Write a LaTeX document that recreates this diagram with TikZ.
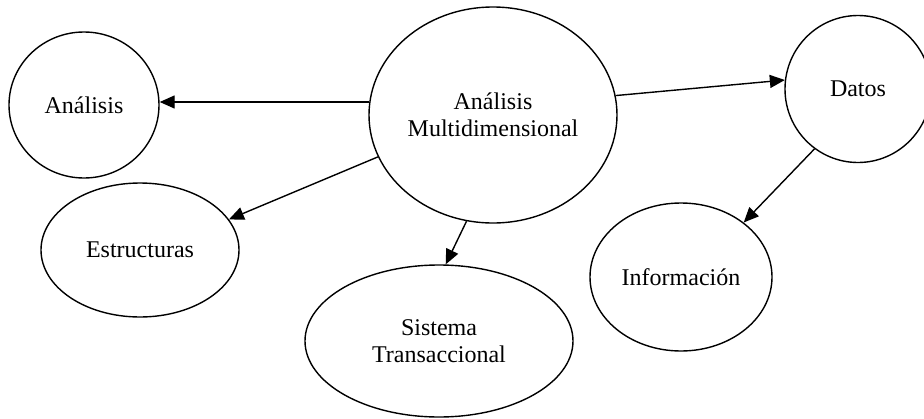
\documentclass[tikz,border=0pt]{standalone}
\usepackage{fontspec}
\setmainfont{Liberation Serif}
\usetikzlibrary{shapes.geometric,arrows.meta}
\begin{document}
\begin{tikzpicture}[x=1pt,y=-1pt,
  bubble/.style={ellipse,draw,line width=1.4pt,inner sep=0pt,align=center,
    font=\fontsize{24}{27.5}\selectfont},
  link/.style={line width=1.4pt,-{Triangle[length=15pt,width=13pt]}}]
\useasboundingbox[fill=white] (0,0) rectangle (924,418);

\node[bubble,minimum width=248pt,minimum height=216pt] (multi) at (493,115) {Análisis\\Multidimensional};
\node[bubble,minimum width=150pt,minimum height=146pt] (anal) at (84,105) {Análisis};
\node[bubble,minimum width=198pt,minimum height=134pt] (estr) at (140,250) {Estructuras};
\node[bubble,minimum width=268pt,minimum height=152pt] (sist) at (439,341) {Sistema\\Transaccional};
\node[bubble,minimum width=146pt,minimum height=147pt] (datos) at (858,89) {Datos};
\node[bubble,minimum width=182pt,minimum height=148pt] (info) at (681,277) {Información};

\draw[link] (multi.174) -- (multi.174 -| anal.east);
\draw[link] (multi.9.8) -- (datos.173);
\draw[link] (multi.200.8) -- (estr.19.2);
\draw[link] (multi.256.3) -- (sist.85.6);
\draw[link] (datos.234.5) -- (info.41.6);
\end{tikzpicture}
\end{document}
